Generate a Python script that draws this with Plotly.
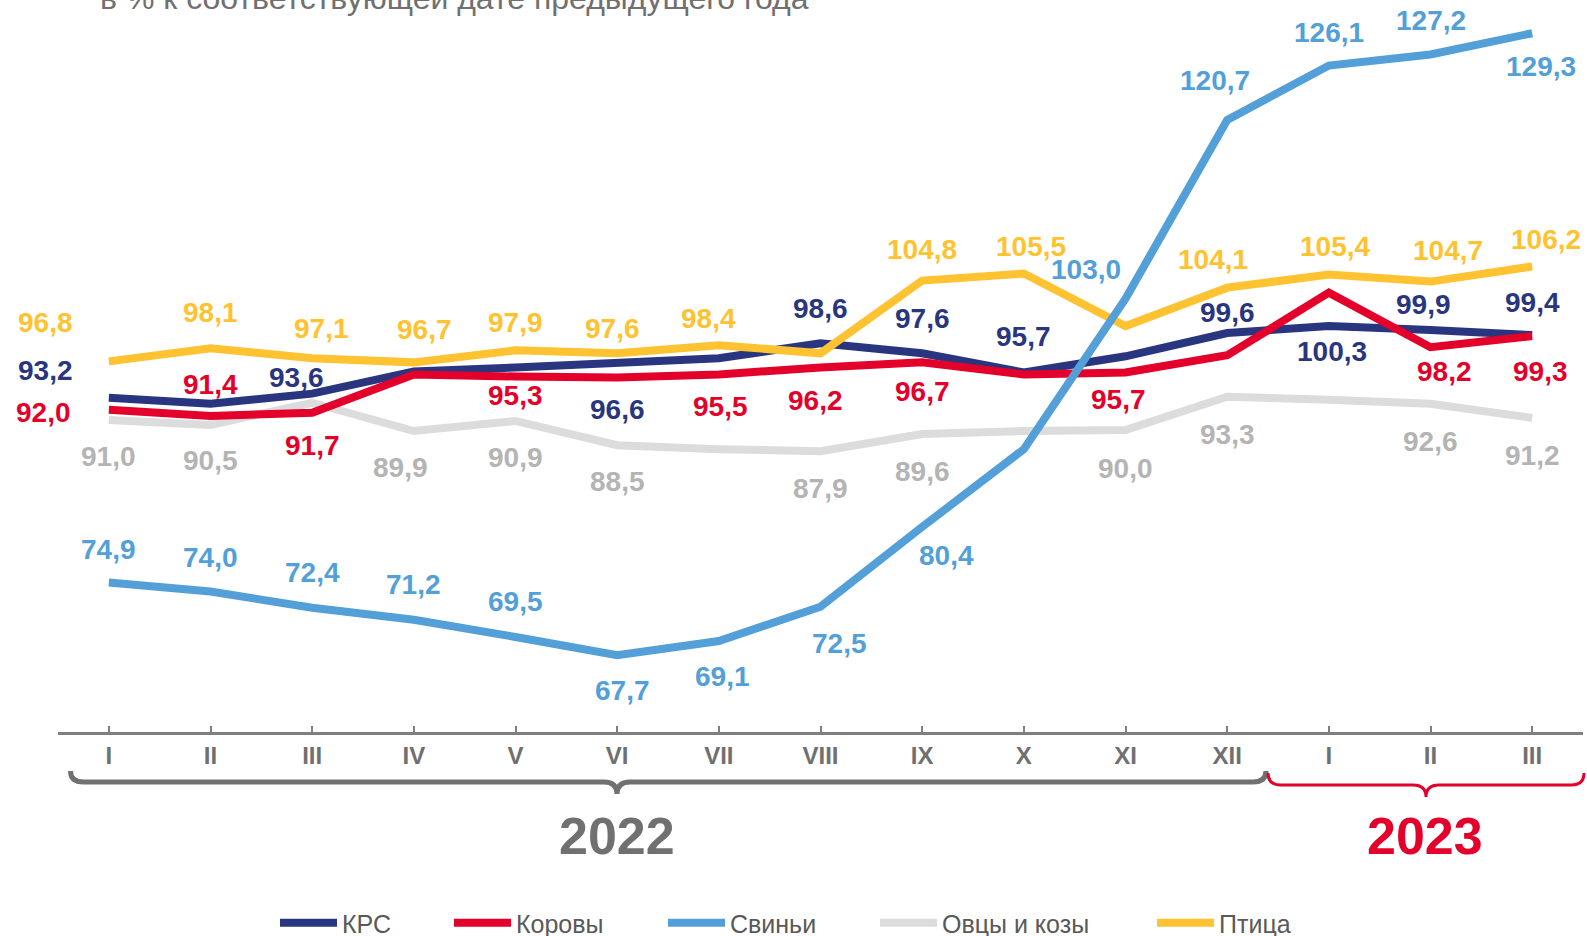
import plotly.graph_objects as go

# ---------------- data ----------------
months = ["I", "II", "III", "IV", "V", "VI", "VII", "VIII", "IX", "X", "XI", "XII", "I", "II", "III"]
years = ["2022", "2023"]
subtitle = "в % к соответствующей дате предыдущего года"

series_names = ["КРС", "Коровы", "Свиньи", "Овцы и козы", "Птица"]
krs = [93.2, 92.6, 93.6, 95.8, 96.2, 96.6, 97.1, 98.6, 97.6, 95.7, 97.3, 99.6, 100.3, 99.9, 99.4]
cows = [92.0, 91.4, 91.7, 95.5, 95.3, 95.2, 95.5, 96.2, 96.7, 95.5, 95.7, 97.4, 103.6, 98.2, 99.3]
pigs = [74.9, 74.0, 72.4, 71.2, 69.5, 67.7, 69.1, 72.5, 80.4, 88.1, 103.0, 120.7, 126.1, 127.2, 129.3]
sheep = [91.0, 90.5, 92.7, 89.9, 90.9, 88.5, 88.1, 87.9, 89.6, 89.9, 90.0, 93.3, 93.0, 92.6, 91.2]
poultry = [96.8, 98.1, 97.1, 96.7, 97.9, 97.6, 98.4, 97.6, 104.8, 105.5, 100.3, 104.1, 105.4, 104.7, 106.2]

# ---------------- styling ----------------
W, H = 1587, 936
ML, MR, MT, MB = 58, 4, 0, 204
PW, PH = W - ML - MR, H - MT - MB
Y_RANGE = [60.09, 132.59]

FONT = "Liberation Sans, Arial, sans-serif"
C_KRS = "#29367F"
C_COW = "#E3002B"
C_PIG = "#539FD8"
C_SHEEP = "#DCDCDC"
C_SHEEP_LBL = "#B4B4B4"
C_POUL = "#FFC230"
C_AXIS = "#7F7F7F"
C_TEXT = "#707070"

# label offsets (px): index -> (dx, dy) ; dy positive = downward
lbl_krs = {0: (-63, -27), 2: (-16, -16), 5: (0, 46), 7: (0, -35), 8: (0, -35), 9: (0, -36),
           11: (0, -21), 12: (3, 25), 13: (-7, -26), 14: (0, -33)}
lbl_cow = {0: (-65, 3), 1: (0, -31), 2: (0, 33), 4: (0, 19), 6: (2, 32), 7: (-5, 33), 8: (0, 29),
           10: (-7, 27), 13: (14, 24), 14: (8, 35)}
lbl_pig = {0: (0, -33), 1: (0, -34), 2: (0, -35), 3: (0, -35), 4: (0, -35), 5: (5, 35), 6: (4, 35),
           7: (19, 37), 8: (24, 29), 10: (-40, -29), 11: (-12, -40), 12: (0, -33), 13: (0, -34),
           14: (9, 33)}
lbl_sheep = {0: (0, 37), 1: (0, 36), 3: (-13, 36), 4: (0, 37), 5: (0, 36), 7: (0, 37), 8: (0, 37),
             10: (0, 38), 11: (0, 38), 13: (0, 38), 14: (0, 38)}
lbl_poul = {0: (-63, -39), 1: (0, -36), 2: (9, -30), 3: (11, -33), 4: (0, -28), 5: (-5, -25),
            6: (-10, -27), 8: (0, -31), 9: (7, -27), 11: (-14, -28), 12: (6, -28), 13: (17, -31),
            14: (14, -27)}

# legend placement (container px of legend box left)
legend_left = [275, 449, 663, 875, 1152]
LEGEND_Y = 923

x = list(range(len(months)))

series = [
    # (values, color, label color, name index, offsets, legend id)
    (sheep, C_SHEEP, C_SHEEP_LBL, 3, lbl_sheep, "legend4"),
    (krs, C_KRS, C_KRS, 0, lbl_krs, "legend"),
    (cows, C_COW, C_COW, 1, lbl_cow, "legend2"),
    (poultry, C_POUL, C_POUL, 4, lbl_poul, "legend5"),
    (pigs, C_PIG, C_PIG, 2, lbl_pig, "legend3"),
]

fig = go.Figure()
annotations = []
for vals, col, lcol, ni, offs, leg in series:
    fig.add_trace(go.Scatter(
        x=x, y=vals, mode="lines", name=series_names[ni],
        line=dict(color=col, width=8), legend=leg, hoverinfo="skip",
    ))
    for i, (dx, dy) in offs.items():
        annotations.append(dict(
            x=x[i], y=vals[i], xref="x", yref="y", showarrow=False,
            text=f"{vals[i]:.1f}".replace(".", ","),
            xshift=dx, yshift=-dy,
            font=dict(family=FONT, size=28, color=lcol, weight="bold"),
        ))


def px_to_paper(px, py):
    return (px - ML) / PW, (H - MB - py) / PH


# subtitle (cut off at the top, as in the source)
sx, sy = px_to_paper(98, -2)
annotations.append(dict(x=sx, y=sy, xref="paper", yref="paper", xanchor="left", yanchor="middle",
                        showarrow=False, text=subtitle,
                        font=dict(family=FONT, size=32, color=C_TEXT)))

# year labels
for txt, cx, col in [(years[0], 617, C_TEXT), (years[1], 1425, C_COW)]:
    ax_, ay_ = px_to_paper(cx, 836)
    annotations.append(dict(x=ax_, y=ay_, xref="paper", yref="paper", xanchor="center",
                            yanchor="middle", showarrow=False, text=txt,
                            font=dict(family=FONT, size=52, color=col, weight="bold")))


def brace(x0, x1, xm, yt, yl, ytip, r):
    def p(px, py):
        a, b = px_to_paper(px, py)
        return f"{a:.5f},{b:.5f}"
    d = (f"M{p(x0, yt)} Q{p(x0, yl)} {p(x0 + r, yl)} L{p(xm - r, yl)} "
         f"Q{p(xm, yl)} {p(xm, ytip)} Q{p(xm, yl)} {p(xm + r, yl)} "
         f"L{p(x1 - r, yl)} Q{p(x1, yl)} {p(x1, yt)}")
    return d


shapes = [
    dict(type="path", xref="paper", yref="paper",
         path=brace(70.5, 1266, 617, 771, 782, 794, 13),
         line=dict(color=C_TEXT, width=5)),
    dict(type="path", xref="paper", yref="paper",
         path=brace(1268, 1584, 1426, 773, 785, 797, 13),
         line=dict(color=C_COW, width=3)),
]

layout_legends = {}
for k, leg in enumerate(["legend", "legend2", "legend3", "legend4", "legend5"]):
    layout_legends[leg] = dict(
        x=legend_left[k] / W, y=1 - LEGEND_Y / H, xref="container", yref="container",
        xanchor="left", yanchor="middle", orientation="h", itemwidth=57,
        font=dict(family=FONT, size=25, color="#595959"),
        bgcolor="rgba(0,0,0,0)", borderwidth=0,
    )

fig.update_layout(
    width=W, height=H,
    margin=dict(l=ML, r=MR, t=MT, b=MB, pad=0),
    paper_bgcolor="white", plot_bgcolor="white",
    showlegend=True,
    annotations=annotations,
    shapes=shapes,
    xaxis=dict(
        range=[-0.5, len(months) - 0.5], tickvals=x, ticktext=months,
        showgrid=False, zeroline=False, showline=True, linecolor=C_AXIS, linewidth=3,
        ticks="inside", ticklen=6, tickwidth=2, tickcolor=C_AXIS,
        tickfont=dict(family=FONT, size=24, color=C_TEXT, weight="bold"),
        fixedrange=True,
    ),
    yaxis=dict(range=Y_RANGE, visible=False, showgrid=False, zeroline=False, fixedrange=True),
    **layout_legends,
)

fig.write_html("out.html", config={"displayModeBar": False},
               post_script="document.body.style.margin='0';")
